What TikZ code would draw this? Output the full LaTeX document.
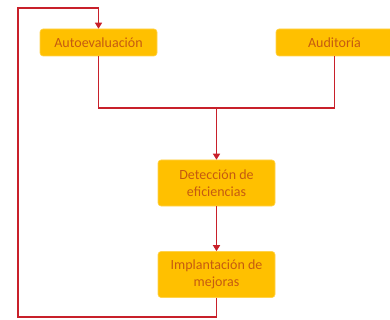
\documentclass[tikz,border=0pt]{standalone}
\usepackage{fontspec}
\setmainfont{Carlito}
\usetikzlibrary{arrows.meta}
\definecolor{boxgold}{HTML}{FFC000}
\definecolor{boxtext}{HTML}{C55A11}
\definecolor{linkred}{HTML}{C8202A}
\tikzset{-box-/.style={
    fill=boxgold,draw=boxgold!70!white,line width=0.6pt,rounded corners=3pt,
    minimum width=117pt,align=center,text=boxtext,inner sep=2pt,
    font=\fontsize{14}{17}\selectfont}
}
\tikzset{-link-/.style={draw=linkred,line width=1.5pt}
}

\begin{document}
\begin{tikzpicture}[x=1pt,y=-1pt,>={Triangle[width=7pt,length=6pt]}]
                \useasboundingbox (0,0) rectangle (390,320);
                
                % Sources
                \node[-box-,minimum height=27pt] (auto) at (98.5,42.5) {Autoevaluación};
                \node[-box-,minimum height=27pt] (audit) at (334.5,42.5) {Auditoría};
                
                % Steps
                \node[-box-,minimum height=46pt] (detect) at (216.5,183) {Detección de\\eficiencias};
                \node[-box-,minimum height=46pt] (improve) at (216.5,274.5) {Implantación de\\mejoras};
                
                % Merge
                \coordinate (join) at (216.5,108);
                \draw[-link-] (auto.south) |- (join) -| (audit.south);
                \draw[-link-,->] (join) -- (detect.north);
                \draw[-link-,->] (detect) -- (improve);
                
                % Feedback
                \coordinate (loopbl) at (18,317);
                \coordinate (looptl) at (18,8);
                \draw[-link-,->] (improve.south) |- (loopbl) -- (looptl) -| (auto.north);
            \end{tikzpicture}
\end{document}
